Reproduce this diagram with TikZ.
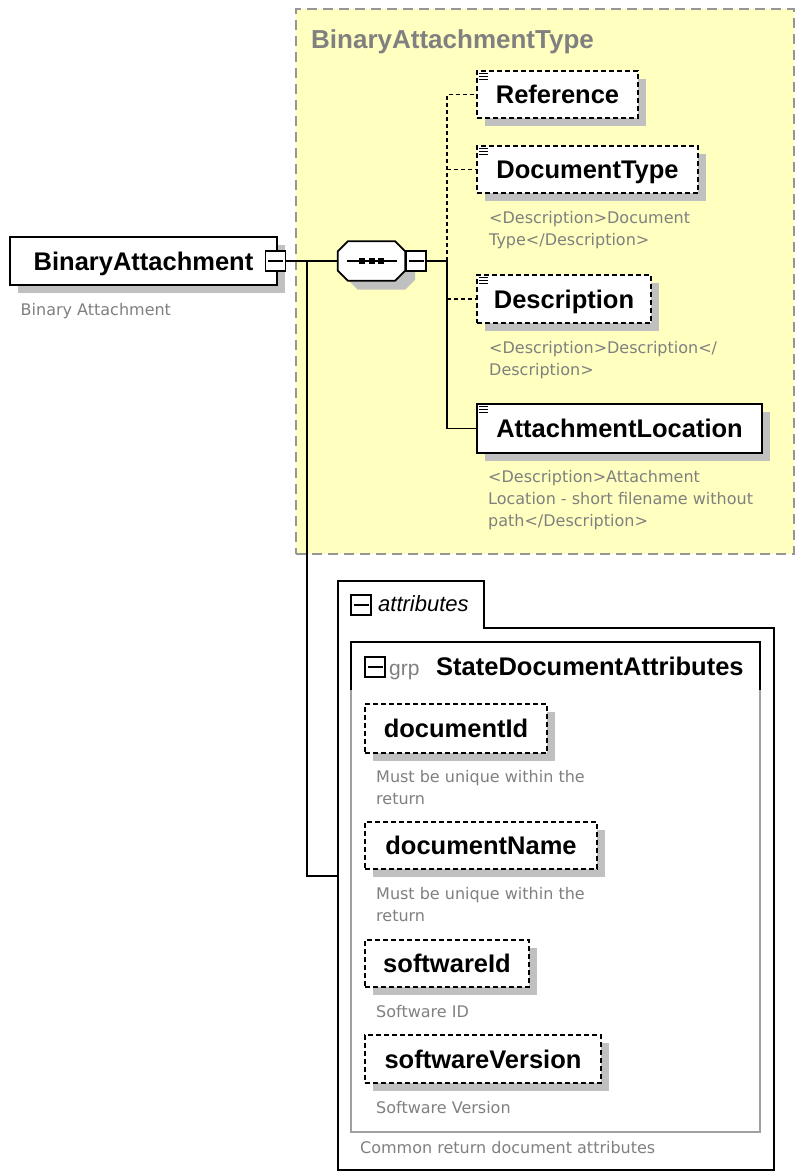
\documentclass[tikz,border=0pt]{standalone}
\usepackage{fontspec}
\newfontfamily\fA{Liberation Sans}
\newfontfamily\fD{DejaVu Sans}
\usetikzlibrary{shadows}
\definecolor{ybg}{RGB}{255,255,192}
\definecolor{dgray}{RGB}{128,128,128}
\definecolor{sgray}{RGB}{192,192,192}
\definecolor{bgray}{RGB}{150,150,150}
\definecolor{ggray}{RGB}{160,160,160}
\newcommand\docicon[1]{\foreach \k in {3,6,9}{\draw[line width=1.2pt] ([shift={(3,\k)}]#1.north west) -- ++(9,0);}}
\tikzset{
  nm/.style={font=\fA\bfseries\fontsize{25.5}{30}\selectfont, text height=18.3pt, text depth=0pt},
  elbox/.style={draw, line width=1.8pt, fill=white, inner sep=0pt, nm,
    drop shadow={shadow xshift=8pt, shadow yshift=-8pt, fill=sgray, opacity=1}},
  optbox/.style={elbox, dash pattern=on 5pt off 3pt},
  dsc/.style={font=\fD\fontsize{16}{22}\selectfont, text=dgray, align=left, anchor=north west, inner sep=0pt},
  conn/.style={line width=1.8pt},
  optconn/.style={conn, dash pattern=on 4pt off 3pt},
  minusbox/.style={draw, line width=1.5pt, fill=white, minimum size=20pt, inner sep=0pt,
    path picture={\draw[line width=1.5pt] ([xshift=2.5pt]path picture bounding box.west) -- ([xshift=-2.5pt]path picture bounding box.east);}},
}
\begin{document}
\begin{tikzpicture}[x=1pt, y=-1pt]
\useasboundingbox (0,0) rectangle (796,1172);
\fill[white] (0,0) rectangle (796,1172);

% complex type container
\node[draw=bgray, line width=1.8pt, dash pattern=on 10pt off 6pt, fill=ybg, minimum width=498pt, minimum height=545pt, inner sep=0pt, anchor=north west] (typebox) at (295,8) {};
\node[font=\fA\bfseries\fontsize{26}{30}\selectfont, text=dgray, anchor=base west, inner sep=0pt] (typetitle) at (311,48.5) {BinaryAttachmentType};

% root element
\node[elbox, minimum width=267pt, minimum height=48pt] (ba) at (143.5,261) {BinaryAttachment};
\node[minusbox] (bam) at (275.5,261) {};
\node[dsc] (badesc) at (20.5,303.5) {Binary Attachment};

% sequence compositor
\node[minimum width=67pt, minimum height=39pt, inner sep=0pt] (seq) at (371.5,261) {};
\draw[line width=1.8pt, fill=white, drop shadow={shadow xshift=10pt, shadow yshift=-9pt, fill=sgray, opacity=1}]
  ([xshift=10pt]seq.north west) -- ([xshift=-10pt]seq.north east) -- ([yshift=-10pt]seq.north east)
  -- ([yshift=10pt]seq.south east) -- ([xshift=-10pt]seq.south east) -- ([xshift=10pt]seq.south west)
  -- ([yshift=10pt]seq.south west) -- ([yshift=-10pt]seq.north west) -- cycle;
\draw[line width=1.5pt] ([xshift=9pt]seq.west) -- ([xshift=-8pt]seq.east);
\foreach \dx in {-9.5,0,9.5}{\fill ([xshift=\dx pt]seq.center) +(-3,-3) rectangle +(3,3);}
\node[minusbox] (seqm) at (416,261) {};

% child elements
\node[optbox, minimum width=161pt, minimum height=47pt] (ref) at (557.5,94.5) {Reference};
\node[optbox, minimum width=221pt, minimum height=47pt] (doctype) at (587.5,169.5) {DocumentType};
\node[optbox, minimum width=174pt, minimum height=48pt] (desc) at (564,299) {Description};
\node[elbox, minimum width=285pt, minimum height=49pt] (attloc) at (619.5,428.5) {AttachmentLocation};
\docicon{ref}\docicon{doctype}\docicon{desc}\docicon{attloc}

\node[dsc] (dtdesc) at (489,211.5) {<Description>Document\\Type</Description>};
\node[dsc] (dsdesc) at (489,341.5) {<Description>Description</\\Description>};
\node[dsc] (aldesc) at (488,470.5) {<Description>Attachment\\Location - short filename without\\path</Description>};

% connectors
\coordinate (j1) at (307,261);
\coordinate (j2) at (447,261);
\coordinate (attL) at (338,876);
\draw[conn] (bam.east) -- (seq.west);
\draw[conn] (j1) |- (attL);
\draw[conn] (seqm.east) -- (j2) |- (attloc.west);
\draw[optconn] (j2) |- (ref.west);
\draw[optconn] (j2 |- doctype.west) -- (doctype.west);
\draw[optconn] (j2 |- desc.west) -- (desc.west);

% attributes
\draw[line width=1.8pt] (338,1170) -- (338,581) -- (484,581) -- (484,628) -- (774,628) -- (774,1170) -- cycle;
\node[minusbox] (attm) at (361,605) {};
\node[font=\fA\itshape\fontsize{22}{26}\selectfont, anchor=base west, inner sep=0pt] (atttxt) at (378,611.5) {attributes};

\draw[ggray, line width=1.8pt] (351,642) rectangle (760,1132);
\draw[line width=1.8pt] (351,690) -- (351,642) -- (760,642) -- (760,690);
\node[minusbox] (grpm) at (375,667) {};
\node[font=\fA\fontsize{21}{25}\selectfont, text=dgray, anchor=base west, inner sep=0pt] (grptxt) at (389,675.5) {grp};
\node[font=\fA\bfseries\fontsize{25.5}{30}\selectfont, anchor=base west, inner sep=0pt] (grpname) at (436,675.5) {StateDocumentAttributes};

\node[optbox, minimum width=182pt, minimum height=49pt] (docid) at (456,728.5) {documentId};
\node[dsc] (didesc) at (376,770.5) {Must be unique within the\\return};
\node[optbox, minimum width=232pt, minimum height=47pt] (docname) at (481,845.5) {documentName};
\node[dsc] (dndesc) at (376,887.5) {Must be unique within the\\return};
\node[optbox, minimum width=164pt, minimum height=47pt] (swid) at (447,963.5) {softwareId};
\node[dsc] (swidesc) at (376,1005.5) {Software ID};
\node[optbox, minimum width=236pt, minimum height=48pt] (swver) at (483,1059) {softwareVersion};
\node[dsc] (swvdesc) at (376,1101.5) {Software Version};
\node[dsc] (grpdesc) at (360,1141.5) {Common return document attributes};
\end{tikzpicture}
\end{document}
